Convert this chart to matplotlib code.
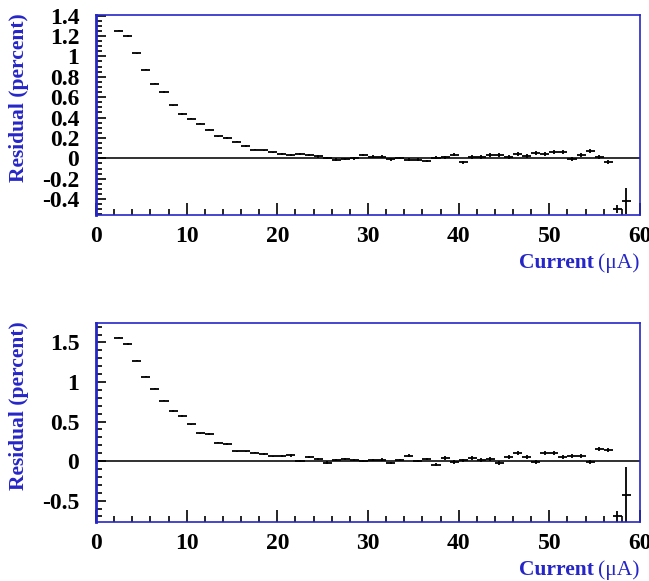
import matplotlib
matplotlib.use("Agg")
from matplotlib import pyplot as plt
from matplotlib.ticker import MultipleLocator

plt.rcParams["font.family"] = ["Liberation Serif", "DejaVu Serif"]

# bin centres (uA), same binning in both panels
current = [2.5, 3.5, 4.5, 5.5, 6.5, 7.5, 8.5, 9.5, 10.5, 11.5, 12.5, 13.5, 14.5, 15.5,
           16.5, 17.5, 18.5, 19.5, 20.5, 21.5, 22.5, 23.5, 24.5, 25.5, 26.5, 27.5, 28.5,
           29.5, 30.5, 31.5, 32.5, 33.5, 34.5, 35.5, 36.5, 37.5, 38.5, 39.5, 40.5, 41.5,
           42.5, 43.5, 44.5, 45.5, 46.5, 47.5, 48.5, 49.5, 50.5, 51.5, 52.5, 53.5, 54.5,
           55.5, 56.5, 57.5, 58.5]
bin_half = 0.5

# top panel residuals (percent)
resid_top = [1.25, 1.20, 1.03, 0.87, 0.73, 0.65, 0.52, 0.435, 0.39, 0.34, 0.28, 0.215, 0.20,
             0.165, 0.12, 0.085, 0.08, 0.06, 0.045, 0.035, 0.045, 0.035, 0.02, 0.005, -0.012,
             -0.004, 0.0, 0.03, 0.016, 0.016, -0.01, 0.002, -0.013, -0.013, -0.026, 0.006,
             0.01, 0.035, -0.04, 0.013, 0.01, 0.033, 0.033, 0.01, 0.04, 0.025, 0.055, 0.04,
             0.06, 0.065, -0.005, 0.033, 0.075, 0.01, -0.035, -0.50, -0.42]
err_top = [0.006, 0.006, 0.006, 0.006, 0.006, 0.006, 0.006, 0.006, 0.006, 0.006, 0.006, 0.006,
           0.006, 0.006, 0.006, 0.006, 0.006, 0.006, 0.012, 0.012, 0.012, 0.012, 0.012, 0.012,
           0.012, 0.012, 0.012, 0.012, 0.012, 0.012, 0.012, 0.012, 0.012, 0.012, 0.012, 0.012,
           0.012, 0.015, 0.015, 0.02, 0.02, 0.02, 0.02, 0.02, 0.02, 0.02, 0.02, 0.02, 0.02,
           0.02, 0.02, 0.02, 0.02, 0.02, 0.02, 0.04, 0.13]

# bottom panel residuals (percent)
resid_bot = [1.56, 1.48, 1.27, 1.066, 0.913, 0.764, 0.633, 0.569, 0.467, 0.349, 0.344, 0.234,
             0.217, 0.124, 0.124, 0.107, 0.09, 0.06, 0.062, 0.072, 0.0, 0.05, 0.03, -0.02,
             0.01, 0.03, 0.013, 0.0, 0.01, 0.02, -0.025, 0.01, 0.07, 0.0, 0.03, -0.047, 0.04,
             -0.012, 0.01, 0.04, 0.015, 0.03, -0.03, 0.055, 0.1, 0.055, -0.01, 0.106, 0.106,
             0.055, 0.068, 0.068, -0.013, 0.15, 0.14, -0.70, -0.43]
err_bot = [0.008, 0.008, 0.008, 0.008, 0.008, 0.008, 0.008, 0.008, 0.008, 0.008, 0.008, 0.008,
           0.008, 0.008, 0.008, 0.008, 0.008, 0.008, 0.015, 0.015, 0.015, 0.015, 0.015, 0.015,
           0.015, 0.015, 0.015, 0.015, 0.015, 0.015, 0.015, 0.015, 0.015, 0.015, 0.015, 0.02,
           0.02, 0.02, 0.02, 0.025, 0.025, 0.025, 0.025, 0.025, 0.025, 0.025, 0.025, 0.025,
           0.025, 0.025, 0.025, 0.025, 0.025, 0.025, 0.025, 0.07, 0.355]

blue = "#2626c8"

fig = plt.figure(figsize=(6.49, 5.81), dpi=100)
ax_top = fig.add_axes([0.1479, 0.6299, 0.8382, 0.3442])
ax_bot = fig.add_axes([0.1479, 0.1015, 0.8382, 0.3425])

panels = [
    (ax_top, resid_top, err_top, (-0.556, 1.405), 0.2, 0.05),
    (ax_bot, resid_bot, err_bot, (-0.77, 1.745), 0.5, 0.1),
]

def fmt(v, pos):
    if abs(v) < 1e-9:
        return "0"
    return "%g" % round(v, 2)

for ax, resid, err, ylim, ymaj, ymin in panels:
    ax.errorbar(current, resid, xerr=bin_half, yerr=err, fmt="none",
                ecolor="black", elinewidth=1.3, capsize=0)
    ax.axhline(0, color="#303030", lw=1.4, zorder=1)
    ax.set_xlim(0, 60)
    ax.set_ylim(*ylim)
    ax.xaxis.set_major_locator(MultipleLocator(10))
    ax.xaxis.set_minor_locator(MultipleLocator(2))
    ax.yaxis.set_major_locator(MultipleLocator(ymaj))
    ax.yaxis.set_minor_locator(MultipleLocator(ymin))
    ax.yaxis.set_major_formatter(plt.FuncFormatter(fmt))
    ax.tick_params(axis="x", which="major", direction="in", length=9, width=1.2, top=False, pad=8)
    ax.tick_params(axis="x", which="minor", direction="in", length=4, width=1.2, top=False)
    ax.tick_params(axis="y", which="major", direction="in", length=7.5, width=1.2, right=False, pad=12)
    ax.tick_params(axis="y", which="minor", direction="in", length=4, width=1.2, right=False)
    for lab in ax.get_xticklabels() + ax.get_yticklabels():
        lab.set_fontsize(17)
        lab.set_fontweight("bold")
    for sp in ax.spines.values():
        sp.set_color(blue)
        sp.set_linewidth(1.2)
    ax.spines["left"].set_linewidth(2)
    ax.text(-0.142, 1.01, "Residual (percent)", transform=ax.transAxes, rotation=90,
            ha="center", va="top", color=blue, fontsize=15.5, fontweight="bold")

fig.canvas.draw()
renderer = fig.canvas.get_renderer()
for ax in (ax_top, ax_bot):
    unit = ax.text(1.0, -0.24, "(\u03bcA)", transform=ax.transAxes, ha="right", va="center",
                   color=blue, fontsize=15.5)
    bb = unit.get_window_extent(renderer)
    x_left = ax.transAxes.inverted().transform((bb.x0 - 5, 0))[0]
    ax.text(x_left, -0.24, "Current", transform=ax.transAxes, ha="right", va="center",
            color=blue, fontsize=15.5, fontweight="bold")

fig.savefig("out.png", dpi=100)
